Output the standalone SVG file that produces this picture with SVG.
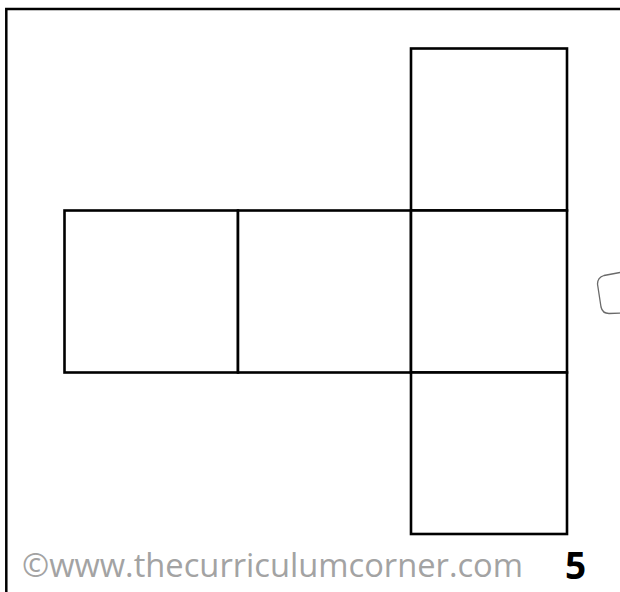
<svg xmlns="http://www.w3.org/2000/svg" width="620" height="592" viewBox="0 0 620 592">
  <style>
    .frame { fill: none; stroke: #000; stroke-width: 2.5; }
    .face { fill: #fff; stroke: #000; stroke-width: 2.6; }
    .blob { fill: none; stroke: #6a6a6a; stroke-width: 1.3; }
    .credit { font-family: "Open Sans", "Liberation Sans", sans-serif; font-size: 33px; fill: #a3a3a3; }
    .page { font-family: "Open Sans", "Liberation Sans", sans-serif; font-size: 37px; font-weight: bold; fill: #000; }
  </style>
  <rect width="620" height="592" fill="#fff"/>
  <g id="frame">
    <path class="frame" d="M6.3,592 L6.3,9 L620,9"/>
  </g>
  <g id="net">
    <g id="face-top"><rect class="face" x="411" y="48.5" width="156" height="162"/></g>
    <g id="face-left"><rect class="face" x="64.5" y="210.5" width="173.5" height="162"/></g>
    <g id="face-midleft"><rect class="face" x="238" y="210.5" width="173" height="162"/></g>
    <g id="face-center"><rect class="face" x="411" y="210.5" width="156" height="162"/></g>
    <g id="face-bottom"><rect class="face" x="411" y="372.5" width="156" height="161.5"/></g>
  </g>
  <g id="connectors"></g>
  <path class="blob" d="M620,272.5 L604,275.5 Q597.5,277.5 597.5,284 L601,307 Q602.5,313.5 609,313.5 L620,313.2"/>
  <text class="credit" x="22" y="577" textLength="501" lengthAdjust="spacingAndGlyphs">©www.thecurriculumcorner.com</text>
  <text class="page" x="565" y="579">5</text>
</svg>
